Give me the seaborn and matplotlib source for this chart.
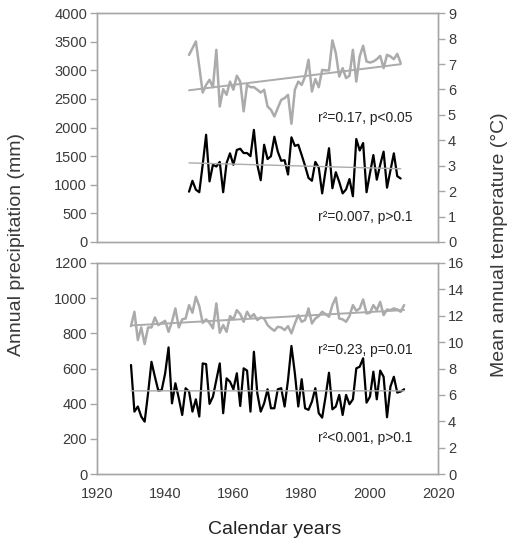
import numpy as np
import pandas as pd
import matplotlib
matplotlib.use("Agg")
import matplotlib.pyplot as plt
import seaborn as sns

# upper site
years_top = list(range(1947, 2010))
precip_top = [880, 1070, 915, 870, 1350, 1875, 1060, 1350, 1320, 1400,
              870, 1380, 1550, 1350, 1610, 1630, 1555, 1555, 1500, 1960,
              1350, 1080, 1700, 1450, 1500, 1840, 1580, 1420, 1430, 1180,
              1830, 1680, 1700, 1520, 1330, 1120, 1070, 1400, 1300, 850,
              1250, 1640, 940, 1220, 1050, 850, 920, 1100, 800, 1800,
              1600, 1730, 870, 1200, 1520, 1090, 1350, 1580, 950, 1250,
              1550, 1150, 1110]
temp_top = [7.36, 7.62, 7.89, 6.90, 5.88, 6.18, 6.38, 6.09, 7.56, 5.33,
            6.01, 5.79, 6.31, 5.99, 6.54, 6.31, 5.14, 6.18, 6.09, 6.09,
            5.99, 5.88, 5.99, 5.33, 5.20, 4.94, 5.27, 5.59, 5.66, 5.79,
            4.65, 5.99, 6.31, 6.18, 6.51, 7.17, 5.92, 6.41, 6.09, 6.77,
            6.75, 6.75, 7.93, 7.43, 6.51, 6.84, 6.45, 6.54, 7.56, 6.31,
            7.30, 7.72, 7.10, 7.06, 7.10, 7.19, 7.32, 6.84, 7.36, 7.30,
            7.19, 7.40, 7.04]

# lower site
years_bot = list(range(1930, 2011))
precip_bot = [620, 355, 384, 327, 298, 459, 638, 553, 474, 478,
              572, 720, 402, 516, 431, 336, 488, 469, 355, 425,
              327, 629, 625, 399, 440, 535, 629, 346, 544, 525,
              482, 573, 387, 601, 588, 355, 695, 459, 355, 402,
              482, 374, 374, 482, 488, 384, 535, 728, 573, 384,
              539, 374, 365, 412, 488, 346, 321, 440, 576, 368,
              384, 450, 336, 450, 397, 425, 601, 610, 658, 406,
              440, 582, 425, 588, 553, 323, 497, 553, 463, 469,
              482]
temp_bot = [11.21, 12.30, 10.15, 11.11, 9.85, 11.11, 11.11, 11.87, 11.29, 11.46,
            11.61, 10.78, 11.54, 12.55, 11.11, 11.72, 11.79, 12.80, 12.22, 13.43,
            12.72, 11.46, 11.72, 11.46, 11.04, 12.93, 10.71, 11.29, 10.78, 11.97,
            11.72, 12.42, 12.12, 11.54, 12.30, 11.87, 12.12, 11.67, 11.87, 11.79,
            11.29, 11.04, 10.86, 11.16, 11.11, 10.91, 11.21, 10.66, 11.41, 12.04,
            11.54, 11.67, 12.55, 11.41, 11.79, 11.97, 12.30, 12.12, 11.92, 12.80,
            13.38, 11.79, 11.72, 11.54, 11.97, 12.80, 12.37, 12.55, 13.23, 12.17,
            12.22, 12.80, 12.42, 13.05, 12.04, 12.47, 12.42, 12.55, 12.47, 12.30,
            12.80]

notes_top = ["r\u00b2=0.17, p<0.05", "r\u00b2=0.007, p>0.1"]
notes_bot = ["r\u00b2=0.23, p=0.01", "r\u00b2<0.001, p>0.1"]

sns.set_style("white")
plt.rcParams['font.family'] = ['Liberation Sans', 'DejaVu Sans']

spine_c = "#a6a6a6"
text_c = "#3a3a3a"
grey = "#ababab"

fig = plt.figure(figsize=(5.18, 5.5), dpi=100)
ax_top = fig.add_axes([0.187, 0.56, 0.659, 0.416])
ax_bot = fig.add_axes([0.187, 0.138, 0.659, 0.384])


def panel(ax, years, precip, temp, pmax, pstep, tmax, tstep, notes, note_y, show_x):
    df = pd.DataFrame({"year": years, "precip": precip, "temp": temp})
    ax2 = ax.twinx()
    # temperature in grey on the right axis, precipitation in black on the left
    sns.lineplot(data=df, x="year", y="temp", ax=ax2, color=grey, lw=1.8)
    sns.regplot(data=df, x="year", y="temp", ax=ax2, scatter=False, ci=None,
                line_kws=dict(color=grey, lw=1.4))
    sns.lineplot(data=df, x="year", y="precip", ax=ax, color="black", lw=1.6)
    sns.regplot(data=df, x="year", y="precip", ax=ax, scatter=False, ci=None,
                line_kws=dict(color=grey, lw=1.0))
    ax.set_xlim(1920, 2020)
    ax.set_ylim(0, pmax)
    ax2.set_ylim(0, tmax)
    ax.set_yticks(np.arange(0, pmax + 1, pstep))
    ax2.set_yticks(np.arange(0, tmax + 0.01, tstep))
    ax.set_xticks(range(1920, 2021, 20))
    for a in (ax, ax2):
        a.set_xlabel("")
        a.set_ylabel("")
        for s in a.spines.values():
            s.set_color(spine_c)
            s.set_linewidth(1.0)
        a.tick_params(direction="out", length=5, width=1.0, color=spine_c,
                      labelcolor=text_c, labelsize=10.5, pad=2)
    ax.tick_params(axis="x", labelbottom=show_x, pad=4)
    ax2.tick_params(axis="x", bottom=False)
    for txt, yv in zip(notes, note_y):
        ax.text(1984.8, yv, txt, fontsize=10, color="#222222", va="center", ha="left")


panel(ax_top, years_top, precip_top, temp_top, 4000, 500, 9, 1,
      notes_top, [2166, 437], False)
panel(ax_bot, years_bot, precip_bot, temp_bot, 1200, 200, 16, 2,
      notes_bot, [705, 205], True)

fig.text(17 / 518, 1 - 245 / 550, "Annual precipitation (mm)", rotation=90,
         ha="center", va="center", fontsize=14, color=text_c)
fig.text(500 / 518, 1 - 245 / 550, "Mean annual temperature (\u00b0C)", rotation=90,
         ha="center", va="center", fontsize=14, color=text_c)
fig.text(275 / 518, 1 - 530 / 550, "Calendar years", ha="center", va="center",
         fontsize=14, color="#222222")

fig.savefig("out.png", dpi=100)
